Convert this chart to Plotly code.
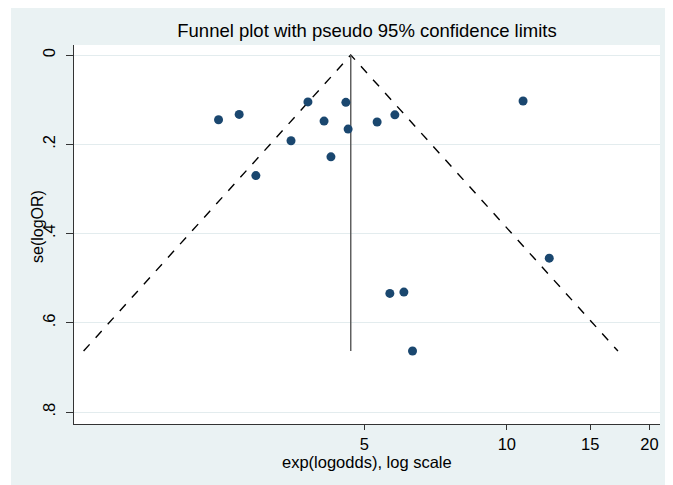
import math
import plotly.graph_objects as go

# Study estimates (odds ratios) and their standard errors of log OR
odds_ratios = [2.46, 2.72, 3.80, 4.57, 4.11, 4.62, 3.50, 4.25, 2.95,
               5.32, 5.80, 10.82, 12.29, 5.66, 6.06, 6.32]
se_log_or = [0.145, 0.133, 0.105, 0.106, 0.148, 0.166, 0.192, 0.228, 0.270,
             0.150, 0.134, 0.103, 0.455, 0.534, 0.531, 0.663]
pooled_or = 4.68
z95 = 1.96

x_tick_vals = [5, 10, 15, 20]
x_tick_text = ["5", "10", "15", "20"]
y_tick_vals = [0, 0.2, 0.4, 0.6, 0.8]
y_tick_text = ["0", ".2", ".4", ".6", ".8"]

se_max = max(se_log_or)
lo = math.exp(math.log(pooled_or) - z95 * se_max)
hi = math.exp(math.log(pooled_or) + z95 * se_max)

BG = "#eaf2f3"
FONT = "Liberation Sans, Arial, sans-serif"

fig = go.Figure()
fig.add_trace(go.Scatter(x=[lo, pooled_or, hi], y=[se_max, 0, se_max],
                         mode="lines", line=dict(color="black", width=1.4, dash="dash"),
                         hoverinfo="skip", showlegend=False))
fig.add_trace(go.Scatter(x=[pooled_or, pooled_or], y=[0, se_max],
                         mode="lines", line=dict(color="#555555", width=1.4),
                         hoverinfo="skip", showlegend=False))
fig.add_trace(go.Scatter(x=odds_ratios, y=se_log_or, mode="markers",
                         marker=dict(color="#1a476f", size=9, line=dict(width=0)),
                         showlegend=False))

# page body has an 8px margin, so the figure is sized to fill the rest
W, H = 665, 477
ml, mr, mt, mb = 66, 13, 37, 61
pw, ph = W - ml - mr, H - mt - mb

fig.update_layout(
    width=W, height=H,
    margin=dict(l=ml, r=mr, t=mt, b=mb, pad=0, autoexpand=False),
    paper_bgcolor=BG, plot_bgcolor="white",
    font=dict(family=FONT, color="black", size=16),
    title=dict(text="Funnel plot with pseudo 95% confidence limits",
               x=0.5, xref="paper", xanchor="center",
               y=1 - 23 / H, yanchor="middle",
               font=dict(size=18.5, family=FONT, color="black")),
    xaxis=dict(type="log", automargin=False,
               range=[math.log10(1.218), math.log10(21.06)],
               tickmode="array", tickvals=x_tick_vals, ticktext=x_tick_text,
               ticks="outside", ticklen=5, tickwidth=1, tickcolor="#333333",
               showline=True, linecolor="#333333", linewidth=1,
               showgrid=False, zeroline=False,
               title=dict(text=""),
               tickfont=dict(size=16.5, family=FONT)),
    yaxis=dict(range=[0.8264, -0.0224], automargin=False,
               tickmode="array", tickvals=y_tick_vals, ticktext=y_tick_text,
               tickangle=-90, ticklabelstandoff=4,
               ticks="outside", ticklen=7, tickwidth=1, tickcolor="#333333",
               showline=True, linecolor="#333333", linewidth=1,
               showgrid=True, gridcolor="#e3ecee", gridwidth=1,
               zeroline=False,
               title=dict(text=""),
               tickfont=dict(size=16.5, family=FONT)),
    annotations=[
        dict(text="exp(logodds), log scale", xref="paper", yref="paper",
             x=0.5, y=-(454 - (H - mb)) / ph, xanchor="center", yanchor="middle",
             showarrow=False, font=dict(size=16.5, family=FONT, color="black")),
        dict(text="se(logOR)", xref="paper", yref="paper",
             x=(29 - ml) / pw, y=(H - mb - 219) / ph, xanchor="center", yanchor="middle",
             textangle=-90, showarrow=False,
             font=dict(size=16, family=FONT, color="black")),
    ],
    shapes=[
        dict(type="rect", xref="paper", yref="paper",
             x0=-0.3, x1=(3 - ml) / pw, y0=-0.3, y1=1.3,
             fillcolor="white", line=dict(width=0), layer="below"),
    ],
)

fig.write_html("out.html")
